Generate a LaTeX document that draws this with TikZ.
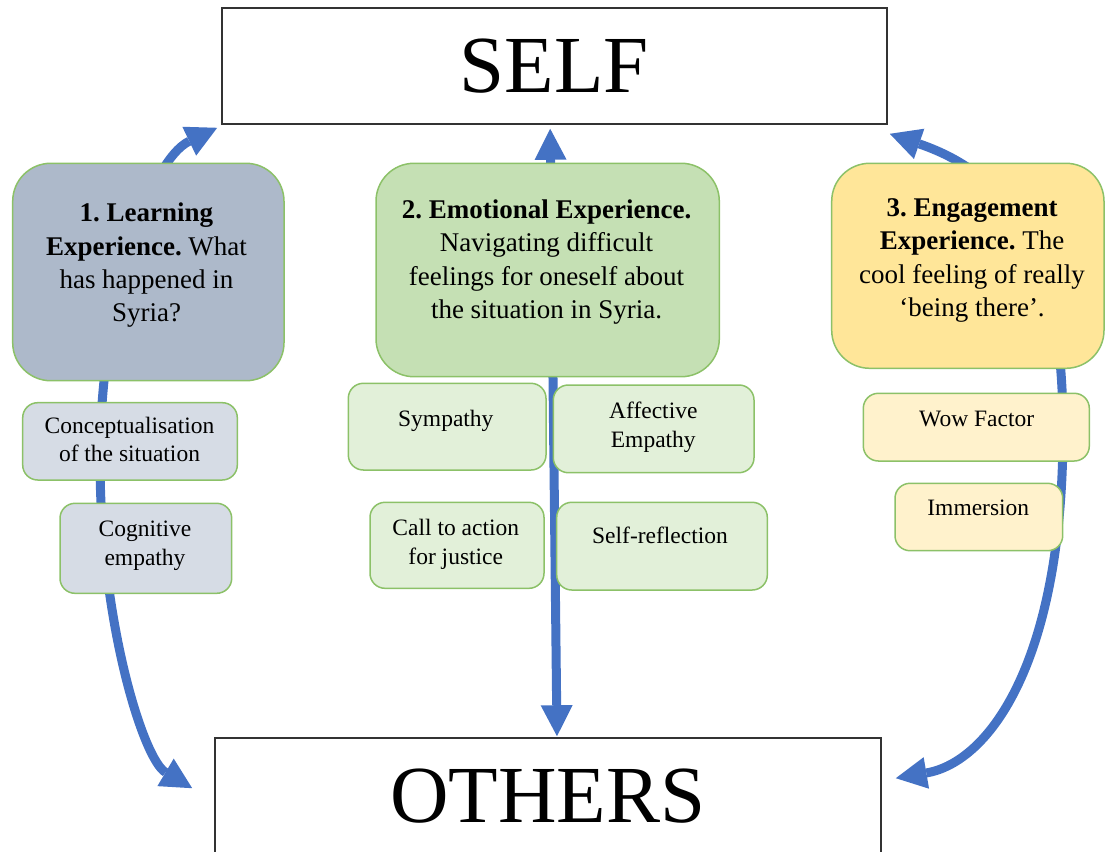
\documentclass[tikz,border=0pt]{standalone}
\usepackage{fontspec}
\setmainfont{Liberation Serif}
\usetikzlibrary{arrows.meta,calc}
\frenchspacing

\definecolor{arrowblue}{HTML}{4472C4}
\definecolor{edgegreen}{HTML}{8CC168}
\definecolor{learnfill}{HTML}{ADB9CA}
\definecolor{learnlight}{HTML}{D6DCE5}
\definecolor{emofill}{HTML}{C5E0B4}
\definecolor{emolight}{HTML}{E2F0D9}
\definecolor{engfill}{HTML}{FFE699}
\definecolor{englight}{HTML}{FFF2CC}

\pgfdeclarelayer{back}
\pgfsetlayers{back,main}

\begin{document}
\begin{tikzpicture}[x=1pt,y=-1pt,
  bigbox/.style={draw=edgegreen, line width=1.5pt, rounded corners=38pt, inner sep=0pt},
  smallbox/.style={draw=edgegreen, line width=1.5pt, rounded corners=15pt, inner sep=0pt},
  titlebox/.style={draw=black!80, line width=1.6pt, inner sep=0pt,
    font=\fontsize{81}{90}\selectfont},
  headtext/.style={align=center, font=\fontsize{27}{33.3}\selectfont},
  itemtext/.style={align=center, font=\fontsize{23.5}{28.7}\selectfont},
  flow/.style={draw=arrowblue, line width=9pt,
    {Triangle[length=31pt,width=32pt,line width=0pt]}-{Triangle[length=31pt,width=32pt,line width=0pt]}}
]
\useasboundingbox (0,0) rectangle (1105,851);

% poles
\node[titlebox, minimum width=665pt, minimum height=116pt] (self) at (554.2,66) {SELF};
\node[titlebox, minimum width=666pt, minimum height=116pt] (others) at (548,796) {OTHERS};

% the three experiences
\node[bigbox, fill=learnfill, minimum width=271.3pt, minimum height=217.4pt] (learn) at (148.35,272) {};
\node[bigbox, fill=emofill, minimum width=343.3pt, minimum height=213.4pt] (emo) at (547.65,270) {};
\node[bigbox, fill=engfill, minimum width=272.3pt, minimum height=205pt] (eng) at (967.85,265.8) {};

\node[headtext] (learntxt) at (146.5,265.4) {\textbf{1. Learning}\\\textbf{Experience.} What\\has happened in\\Syria?};
\node[headtext] (emotxt) at (546.5,262) {\textbf{2. Emotional Experience.}\\Navigating difficult\\feelings for oneself about\\the situation in Syria.};
\node[headtext] (engtxt) at (972,260.4) {\textbf{3. Engagement}\\\textbf{Experience.} The\\cool feeling of really\\‘being there’.};

% outcomes of each experience
\node[smallbox, fill=learnlight, minimum width=214.6pt, minimum height=77.3pt] (concept) at (130,441.35) {};
\node[smallbox, fill=learnlight, minimum width=171.7pt, minimum height=90pt] (cog) at (145.85,548.3) {};
\node[smallbox, fill=emolight, minimum width=197.7pt, minimum height=86.7pt] (sym) at (447.15,426.65) {};
\node[smallbox, fill=emolight, minimum width=200.7pt, minimum height=87.7pt] (aff) at (653.65,428.85) {};
\node[smallbox, fill=emolight, minimum width=174pt, minimum height=86pt] (call) at (457,545.3) {};
\node[smallbox, fill=emolight, minimum width=210.6pt, minimum height=87.7pt] (refl) at (662,546.15) {};
\node[smallbox, fill=englight, minimum width=226pt, minimum height=67.7pt] (wow) at (976.3,427.15) {};
\node[smallbox, fill=englight, minimum width=167.7pt, minimum height=67.4pt] (imm) at (978.85,517) {};

\node[itemtext] (concepttxt) at (129.5,439.5) {Conceptualisation\\of the situation};
\node[itemtext] (cogtxt) at (145,545.5) {Cognitive\\empathy};
\node[itemtext] (symtxt) at (445.8,421.2) {Sympathy};
\node[itemtext] (afftxt) at (653.3,427) {Affective\\Empathy};
\node[itemtext] (calltxt) at (455.8,544) {Call to action\\for justice};
\node[itemtext] (refltxt) at (660,535.3) {Self-reflection};
\node[itemtext] (wowtxt) at (976.7,418.7) {Wow Factor};
\node[itemtext] (immtxt) at (978.3,508) {Immersion};

% two-way arrows between self and others, behind the boxes
\begin{pgfonlayer}{back}
\draw[flow] ([shift={(-4,4)}]self.south) -- ([shift={(9,-1)}]others.north);
\draw[flow] ([shift={(-3.7,3)}]self.south west)
  .. controls (150,160) and (100,300) .. (100,460)
  .. controls (100,620) and (143,759) .. ([shift={(-22,51)}]others.north west);
\draw[flow] ([shift={(2.3,9)}]self.south east)
  .. controls (1010,175) and (1063,250) .. (1063,430)
  .. controls (1063,660) and (990,762) .. ([shift={(14,41)}]others.north east);
\end{pgfonlayer}
\end{tikzpicture}
\end{document}
